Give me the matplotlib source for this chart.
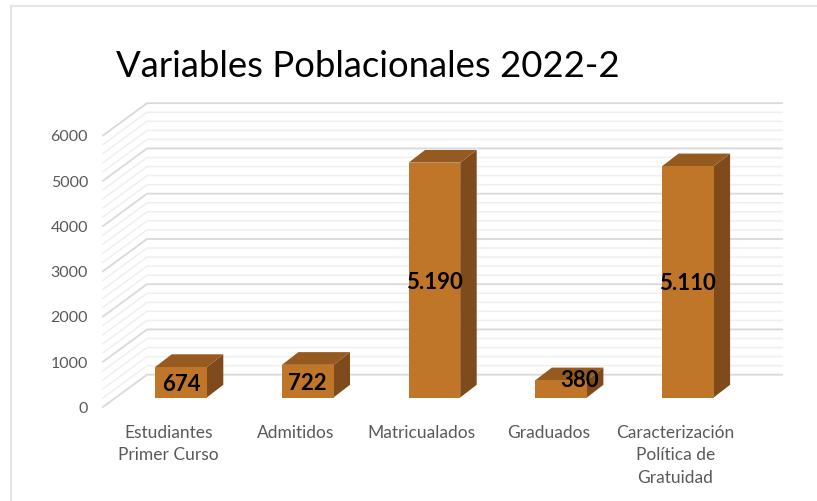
import matplotlib
matplotlib.use("Agg")
import matplotlib.pyplot as plt
from matplotlib.patches import Polygon

categories = ["Estudiantes\nPrimer Curso", "Admitidos", "Matricualados", "Graduados",
              "Caracterización\nPolítica de\nGratuidad"]
values = [674, 722, 5190, 380, 5110]
value_labels = ["674", "722", "5.190", "380", "5.110"]
y_ticks = [0, 1000, 2000, 3000, 4000, 5000, 6000]

W, H = 817, 502
SLOPE = 0.04525      # pixels per unit of value
CAT_STEP = 126.7     # pixels between categories
X0, Y0 = 181.0, 398.5  # pixel of first bar centre / bar base


def dx(px):
    return px / CAT_STEP


def dy(px):
    return px / SLOPE


def xpix(px):
    return (px - X0) / CAT_STEP


def ypix(px):
    return (Y0 - px) / SLOPE


plt.rcParams["font.family"] = ["Lato", "DejaVu Sans"]
fig = plt.figure(figsize=(W / 100, H / 100), dpi=100)
ax = fig.add_axes([0, 0, 1, 1])
ax.set_xlim(xpix(0), xpix(W))
ax.set_ylim(ypix(H), ypix(0))
ax.axis("off")

# outer frame of the chart, only top and left show
ax.plot([xpix(11), xpix(11), xpix(W)], [ypix(H), ypix(6.5), ypix(6.5)],
        color="#e4e4e4", lw=1.5, zorder=1)

# gridlines: floor edge in front, then back wall
left_front = xpix(103)
left_back = xpix(147)
right_back = xpix(782)
front_y = dy(-9.5)
back_y = dy(22.8)
for v in range(0, 6001, 200):
    major = v % 1000 == 0
    c = "#d9d9d9" if major else "#efefef"
    lw = 1.3 if major else 1.1
    ax.plot([left_front, left_back, right_back],
            [v + front_y, v + back_y, v + back_y],
            color=c, lw=lw, zorder=1, solid_joinstyle="miter")

# 3d bars
half = dx(25.8)
ddx, ddy = dx(16.5), dy(12.7)
for i, v in enumerate(values):
    l, r = i - half, i + half
    ax.add_patch(Polygon([(r, 0), (r + ddx, ddy), (r + ddx, v + ddy), (r, v)],
                         fc="#7f4b1c", ec="none", zorder=3))
    ax.add_patch(Polygon([(l, v), (l + ddx, v + ddy), (r + ddx, v + ddy), (r, v)],
                         fc="#955a20", ec="none", zorder=3))
    ax.bar(i, v, width=2 * half, color="#c07628", zorder=4)

# value labels centred on the bars, the 380 one was moved by hand in the original
for i, (v, txt) in enumerate(zip(values, value_labels)):
    x, y = i, v / 2 + dy(-1)
    if i == 3:
        x += dx(18.5)
        y += dy(10)
    ax.text(x, y, txt, ha="center", va="center", fontsize=16,
            fontweight="bold", color="black", zorder=5)

# y tick labels
for v in y_ticks:
    ax.text(xpix(88), v + dy(-10.5), str(v), ha="right", va="center",
            fontsize=11.5, color="#595959")

for i, c in enumerate(categories):
    ax.text(i + dx(-12.5), ypix(425), c, ha="center", va="top",
            fontsize=12.5, color="#595959", linespacing=1.5)

ax.text(xpix(116), ypix(67), "Variables Poblacionales 2022-2",
        ha="left", va="center", fontsize=26.3, color="black")

fig.savefig("out.png", dpi=100, facecolor="white")
plt.close(fig)
